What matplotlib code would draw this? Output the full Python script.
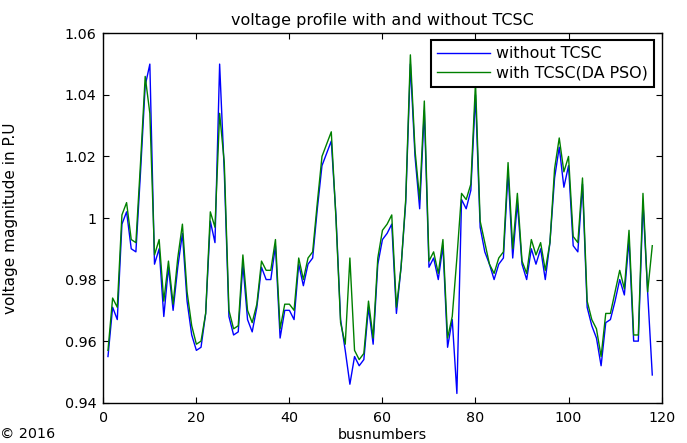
import numpy as np
import matplotlib
matplotlib.use("Agg")
import matplotlib.pyplot as plt
from matplotlib.ticker import FuncFormatter

plt.rcParams['font.family'] = ['DejaVu Sans']

# Bus voltage magnitudes (p.u.) for the 118-bus system
buses = np.arange(1, 119)

v_without = [
    0.955, 0.971, 0.967, 0.998, 1.002, 0.990, 0.989, 1.015, 1.043, 1.050,
    0.985, 0.990, 0.968, 0.984, 0.970, 0.984, 0.995, 0.973, 0.962, 0.957,
    0.958, 0.969, 0.999, 0.992, 1.050, 1.015, 0.968, 0.962, 0.963, 0.985,
    0.967, 0.963, 0.971, 0.984, 0.980, 0.980, 0.991, 0.961, 0.970, 0.970,
    0.967, 0.985, 0.978, 0.985, 0.987, 1.003, 1.017, 1.021, 1.025, 1.001,
    0.967, 0.957, 0.946, 0.955, 0.952, 0.954, 0.971, 0.959, 0.985, 0.993,
    0.995, 0.998, 0.969, 0.984, 1.005, 1.050, 1.020, 1.003, 1.035, 0.984,
    0.987, 0.980, 0.991, 0.958, 0.967, 0.943, 1.006, 1.003, 1.009, 1.040,
    0.997, 0.989, 0.985, 0.980, 0.985, 0.987, 1.015, 0.987, 1.005, 0.985,
    0.980, 0.990, 0.985, 0.990, 0.980, 0.992, 1.013, 1.023, 1.010, 1.017,
    0.991, 0.989, 1.011, 0.971, 0.965, 0.961, 0.952, 0.966, 0.967, 0.973,
    0.980, 0.975, 0.993, 0.960, 0.960, 1.005, 0.976, 0.949,
]

v_with = [
    0.957, 0.974, 0.971, 1.001, 1.005, 0.993, 0.992, 1.018, 1.046, 1.034,
    0.988, 0.993, 0.973, 0.986, 0.972, 0.987, 0.998, 0.976, 0.965, 0.959,
    0.960, 0.969, 1.002, 0.997, 1.034, 1.018, 0.970, 0.964, 0.965, 0.988,
    0.970, 0.966, 0.972, 0.986, 0.983, 0.983, 0.993, 0.964, 0.972, 0.972,
    0.970, 0.987, 0.980, 0.987, 0.989, 1.005, 1.020, 1.024, 1.028, 1.000,
    0.966, 0.959, 0.987, 0.957, 0.954, 0.956, 0.973, 0.961, 0.987, 0.996,
    0.998, 1.001, 0.971, 0.984, 1.006, 1.053, 1.022, 1.006, 1.038, 0.986,
    0.989, 0.982, 0.993, 0.961, 0.968, 0.987, 1.008, 1.006, 1.011, 1.044,
    0.999, 0.992, 0.985, 0.982, 0.987, 0.989, 1.018, 0.990, 1.008, 0.986,
    0.982, 0.993, 0.988, 0.992, 0.983, 0.992, 1.016, 1.026, 1.015, 1.020,
    0.994, 0.992, 1.013, 0.973, 0.967, 0.964, 0.955, 0.969, 0.969, 0.976,
    0.983, 0.977, 0.996, 0.962, 0.962, 1.008, 0.976, 0.991,
]

x_ticks = [0, 20, 40, 60, 80, 100, 120]
y_ticks = [0.94, 0.96, 0.98, 1.00, 1.02, 1.04, 1.06]

fig = plt.figure(figsize=(6.87, 4.43), dpi=100)
ax = fig.add_axes([0.1504, 0.091, 0.8126, 0.8338])

ax.plot(buses, v_without, color=(0, 0, 1), lw=1.0, label='without TCSC')
ax.plot(buses, v_with, color=(0, 0.5, 0), lw=1.0, label='with TCSC(DA PSO)')

ax.set_xlim(0, 120)
ax.set_ylim(0.94, 1.06)
ax.set_xticks(x_ticks)
ax.set_yticks(y_ticks)
ax.yaxis.set_major_formatter(FuncFormatter(lambda v, p: f"{v:g}"))
ax.tick_params(direction='in', top=True, right=True, length=4, width=0.8,
               labelsize=10.3, colors='black')
ax.tick_params(axis='x', pad=6)
ax.tick_params(axis='y', pad=5)
for s in ax.spines.values():
    s.set_linewidth(1.0)
    s.set_color('black')

ax.set_title('voltage profile with and without TCSC', fontsize=11.5, pad=6)
ax.set_xlabel('busnumbers', fontsize=10.4, va='top')
ax.xaxis.set_label_coords(0.5, -0.068)
ax.set_ylabel('voltage magnitude in P.U', fontsize=11)
ax.yaxis.set_label_coords(-0.153, 0.5)

leg = ax.legend(loc='upper right', bbox_to_anchor=(0.986, 0.982),
                borderaxespad=0, fancybox=False, framealpha=1,
                edgecolor='black', fontsize=11.4, handlelength=3.35,
                handletextpad=0.35, labelspacing=0.25, borderpad=0.4)
leg.get_frame().set_linewidth(1.5)

fig.text(0.0, 0.004, '\u00a9 2016', fontsize=10.3, ha='left', va='bottom')

fig.savefig('out.png', dpi=100)
